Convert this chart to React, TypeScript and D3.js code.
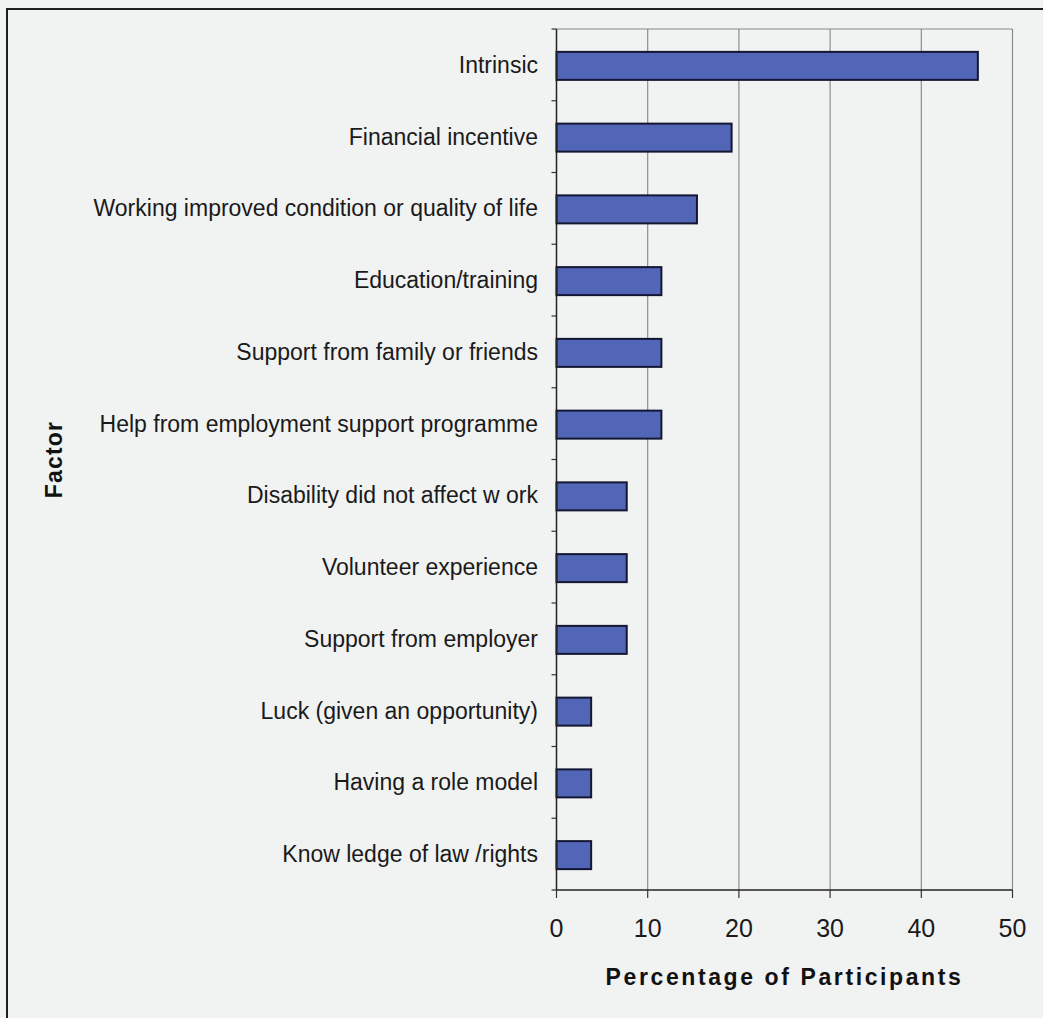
import React from "react";
import * as d3 from "d3";

const categories = [
  "Intrinsic",
  "Financial incentive",
  "Working improved condition or quality of life",
  "Education/training",
  "Support from family or friends",
  "Help from employment support programme",
  "Disability did not affect w ork",
  "Volunteer experience",
  "Support from employer",
  "Luck (given an opportunity)",
  "Having a role model",
  "Know ledge of law /rights",
];
const values = [46.2, 19.2, 15.4, 11.5, 11.5, 11.5, 7.7, 7.7, 7.7, 3.8, 3.8, 3.8];
const xTicks = [0, 10, 20, 30, 40, 50];
const xTitle = "Percentage of Participants";
const yTitle = "Factor";

export default function App() {
  const W = 1043, H = 1018;
  const left = 556.5, right = 1012.5, top = 29, bottom = 890;
  const x = d3.scaleLinear().domain([0, 50]).range([left, right]);
  const y = d3.scaleBand<string>().domain(categories).range([top, bottom]).paddingInner(0).paddingOuter(0);
  const barH = 28;
  const font = "'Liberation Sans', Arial, sans-serif";
  const bandBounds = d3.range(categories.length + 1).map((i) => top + i * y.step());

  return (
    <svg width={W} height={H} style={{ position: "absolute", left: 0, top: 0 }} fontFamily={font}>
      <rect x={0} y={0} width={W} height={H} fill="#f1f2f2" />
      <rect x={7} y={9} width={1200} height={1200} fill="none" stroke="#1e1e1e" strokeWidth={2} />
      {xTicks.slice(1).map((t) => (
        <line key={"g" + t} x1={x(t)} x2={x(t)} y1={top} y2={bottom} stroke="#858585" strokeWidth={1.1} />
      ))}
      <line x1={left} x2={right} y1={top} y2={top} stroke="#858585" strokeWidth={1.1} />
      {categories.map((c, i) => {
        const cy = (y(c) as number) + y.bandwidth() / 2 + 1;
        return (
          <rect
            key={c}
            x={x(0)}
            y={cy - barH / 2}
            width={x(values[i]) - x(0)}
            height={barH}
            fill="#5166b6"
            stroke="#141633"
            strokeWidth={2}
          />
        );
      })}
      <line x1={left} x2={left} y1={top} y2={bottom} stroke="#222" strokeWidth={1.5} />
      <line x1={left} x2={right} y1={bottom} y2={bottom} stroke="#222" strokeWidth={1.5} />
      {bandBounds.map((b, i) => (
        <line key={"yt" + i} x1={left - 5} x2={left} y1={b} y2={b} stroke="#333" strokeWidth={1.2} />
      ))}
      {xTicks.map((t) => (
        <line key={"xt" + t} x1={x(t)} x2={x(t)} y1={bottom} y2={bottom + 8} stroke="#333" strokeWidth={1.2} />
      ))}
      {xTicks.map((t) => (
        <text key={"xl" + t} x={x(t)} y={937} textAnchor="middle" fontSize={25} fill="#1a1a1a">
          {t}
        </text>
      ))}
      {categories.map((c) => (
        <text
          key={"l" + c}
          x={538}
          y={(y(c) as number) + y.bandwidth() / 2}
          dy="0.35em"
          textAnchor="end"
          fontSize={23}
          fill="#1a1a1a"
        >
          {c}
        </text>
      ))}
      <text x={(left + right) / 2} y={985} textAnchor="middle" fontSize={23} fontWeight="bold" letterSpacing={2.6} fill="#111">
        {xTitle}
      </text>
      <text
        transform={`translate(62,${(top + bottom) / 2}) rotate(-90)`}
        textAnchor="middle"
        fontSize={23}
        fontWeight="bold"
        letterSpacing={1.2}
        fill="#111"
      >
        {yTitle}
      </text>
    </svg>
  );
}
